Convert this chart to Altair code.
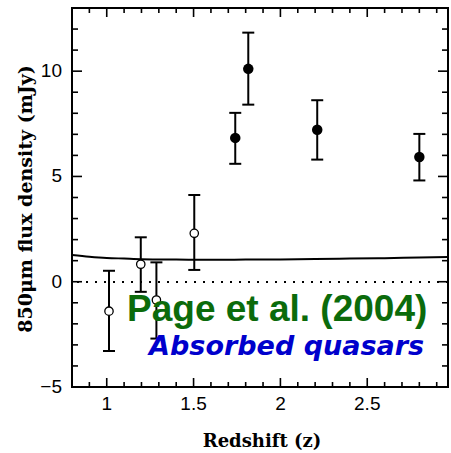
import altair as alt
import pandas as pd

# ---- data ----
z_open = [1.013, 1.196, 1.286, 1.504]
f_open = [-1.40, 0.83, -0.87, 2.30]
lo_open = [-3.29, -0.48, -2.70, 0.56]
hi_open = [0.52, 2.11, 0.92, 4.12]

z_filled = [1.740, 1.815, 2.212, 2.800]
f_filled = [6.83, 10.11, 7.22, 5.92]
lo_filled = [5.60, 8.41, 5.80, 4.81]
hi_filled = [8.02, 11.83, 8.62, 7.02]

curve_z = [0.80, 0.90, 1.00, 1.10, 1.20, 1.40, 1.60, 1.80, 2.00, 2.20, 2.40, 2.60, 2.80, 2.965]
curve_f = [1.27, 1.19, 1.13, 1.10, 1.07, 1.05, 1.04, 1.05, 1.06, 1.08, 1.10, 1.12, 1.15, 1.17]

# ticks and tick labels
x_major = [1.0, 1.5, 2.0, 2.5]
x_major_text = ["1", "1.5", "2", "2.5"]
x_minor = [0.9, 1.1, 1.2, 1.3, 1.4, 1.6, 1.7, 1.8, 1.9,
           2.1, 2.2, 2.3, 2.4, 2.6, 2.7, 2.8, 2.9]
y_labels = [-5, 0, 5, 10]
y_labels_text = ["\u22125", "0", "5", "10"]
y_major = [0, 5, 10]
y_minor = [-4, -3, -2, -1, 1, 2, 3, 4, 6, 7, 8, 9, 11, 12]

x_title = ["Redshift (z)"]
y_title = ["850μm flux density (mJy)"]
label_green = ["Page et al. (2004)"]
label_blue = ["Absorbed quasars"]

W, H = 376, 379

pts = pd.DataFrame({
    "z": z_open + z_filled,
    "f": f_open + f_filled,
    "lo": lo_open + lo_filled,
    "hi": hi_open + hi_filled,
    "kind": ["open"] * len(z_open) + ["filled"] * len(z_filled),
})
open_df = pts[pts.kind == "open"]
filled_df = pts[pts.kind == "filled"]
curve_df = pd.DataFrame({"z": curve_z, "f": curve_f})

xs = alt.Scale(domain=[0.8, 2.965], nice=False, zero=False)
ys = alt.Scale(domain=[-5, 13], nice=False, zero=False)

LABEL_FONT = "Liberation Sans"
TITLE_FONT = "DejaVu Serif"

err = alt.Chart(pts).mark_rule(color="black", strokeWidth=2).encode(
    x=alt.X("z:Q", scale=xs, axis=None),
    y=alt.Y("lo:Q", scale=ys, axis=None),
    y2="hi:Q",
)

cap_lo = alt.Chart(pts).mark_tick(orient="horizontal", size=12, thickness=2,
                                  color="black", opacity=1).encode(
    x=alt.X("z:Q", scale=xs, axis=None),
    y=alt.Y("lo:Q", scale=ys, axis=None),
)

cap_hi = alt.Chart(pts).mark_tick(orient="horizontal", size=12, thickness=2,
                                  color="black", opacity=1).encode(
    x=alt.X("z:Q", scale=xs, axis=None),
    y=alt.Y("hi:Q", scale=ys, axis=None),
)

open_pts = alt.Chart(open_df).mark_point(shape="circle", filled=False, size=70,
                                         strokeWidth=1.3, color="black", opacity=1,
                                         fill="white").encode(
    x=alt.X("z:Q", scale=xs, axis=None),
    y=alt.Y("f:Q", scale=ys, axis=None),
)

filled_pts = alt.Chart(filled_df).mark_circle(size=110, color="black", opacity=1).encode(
    x=alt.X("z:Q", scale=xs, axis=None),
    y=alt.Y("f:Q", scale=ys, axis=None),
)

curve = alt.Chart(curve_df).mark_line(color="black", strokeWidth=2,
                                      interpolate="monotone").encode(
    x=alt.X("z:Q", scale=xs, axis=None),
    y=alt.Y("f:Q", scale=ys, axis=None),
)

zero = alt.Chart(curve_df).mark_rule(color="black", strokeWidth=1.6,
                                     strokeDash=[2, 7]).encode(
    y=alt.YDatum(0, scale=ys, axis=None),
)


# inward frame ticks (positions from the tick lists through the scales)
def xticks(values, length):
    d = pd.DataFrame({"v": values})
    bottom = alt.Chart(d).mark_rule(color="black", strokeWidth=1.6).encode(
        x=alt.X("v:Q", scale=xs, axis=None), y=alt.value(H), y2=alt.value(H - length))
    top = alt.Chart(d).mark_rule(color="black", strokeWidth=1.6).encode(
        x=alt.X("v:Q", scale=xs, axis=None), y=alt.value(0), y2=alt.value(length))
    return [bottom, top]


def yticks(values, length):
    d = pd.DataFrame({"v": values})
    left = alt.Chart(d).mark_rule(color="black", strokeWidth=1.6).encode(
        y=alt.Y("v:Q", scale=ys, axis=None), x=alt.value(0), x2=alt.value(length))
    right = alt.Chart(d).mark_rule(color="black", strokeWidth=1.6).encode(
        y=alt.Y("v:Q", scale=ys, axis=None), x=alt.value(W), x2=alt.value(W - length))
    return [left, right]


tick_layers = xticks(x_major, 9) + xticks(x_minor, 5) + yticks(y_major, 10) + yticks(y_minor, 6)

# tick labels and axis titles (placed through the scales)
x_lab = alt.Chart(pd.DataFrame({"v": x_major, "t": x_major_text})).mark_text(
    align="center", baseline="top", font=LABEL_FONT, fontSize=19, color="black").encode(
    x=alt.X("v:Q", scale=xs, axis=None), y=alt.value(H + 8), text="t:N")

y_lab = alt.Chart(pd.DataFrame({"v": y_labels, "t": y_labels_text})).mark_text(
    align="right", baseline="middle", font=LABEL_FONT, fontSize=19, color="black").encode(
    y=alt.Y("v:Q", scale=ys, axis=None), x=alt.value(-10), text="t:N")

x_tit = alt.Chart(pd.DataFrame({"t": x_title})).mark_text(
    align="center", baseline="alphabetic", font=TITLE_FONT, fontSize=18,
    fontWeight="bold", color="black").encode(
    x=alt.value(W / 2 + 2), y=alt.value(H + 60), text="t:N")

y_tit = alt.Chart(pd.DataFrame({"t": y_title})).mark_text(
    align="center", baseline="middle", angle=270, font=TITLE_FONT, fontSize=19,
    fontWeight="bold", color="black").encode(
    x=alt.value(-46), y=alt.value(191), text="t:N")

txt_green = alt.Chart(pd.DataFrame({"t": label_green})).mark_text(
    align="left", baseline="alphabetic", font=LABEL_FONT, fontSize=37,
    fontWeight="bold", color="#0b6b0b").encode(
    x=alt.XDatum(1.117, scale=xs, axis=None),
    y=alt.YDatum(-1.87, scale=ys, axis=None),
    text="t:N",
)

txt_blue = alt.Chart(pd.DataFrame({"t": label_blue})).mark_text(
    align="left", baseline="alphabetic", font="DejaVu Sans", fontSize=27,
    fontWeight="bold", fontStyle="italic", color="#0000cc").encode(
    x=alt.XDatum(1.244, scale=xs, axis=None),
    y=alt.YDatum(-3.49, scale=ys, axis=None),
    text="t:N",
)

chart = alt.layer(
    err, cap_lo, cap_hi, curve, zero, open_pts, filled_pts, *tick_layers,
    x_lab, y_lab, x_tit, y_tit, txt_green, txt_blue
).properties(
    width=W, height=H,
    autosize=alt.AutoSizeParams(type="none"),
    padding={"left": 72, "top": 8, "right": 3, "bottom": 66},
    background="white",
).configure_view(stroke="black", strokeWidth=2)

chart.save("out.html", embed_options={"renderer": "svg", "actions": False})
